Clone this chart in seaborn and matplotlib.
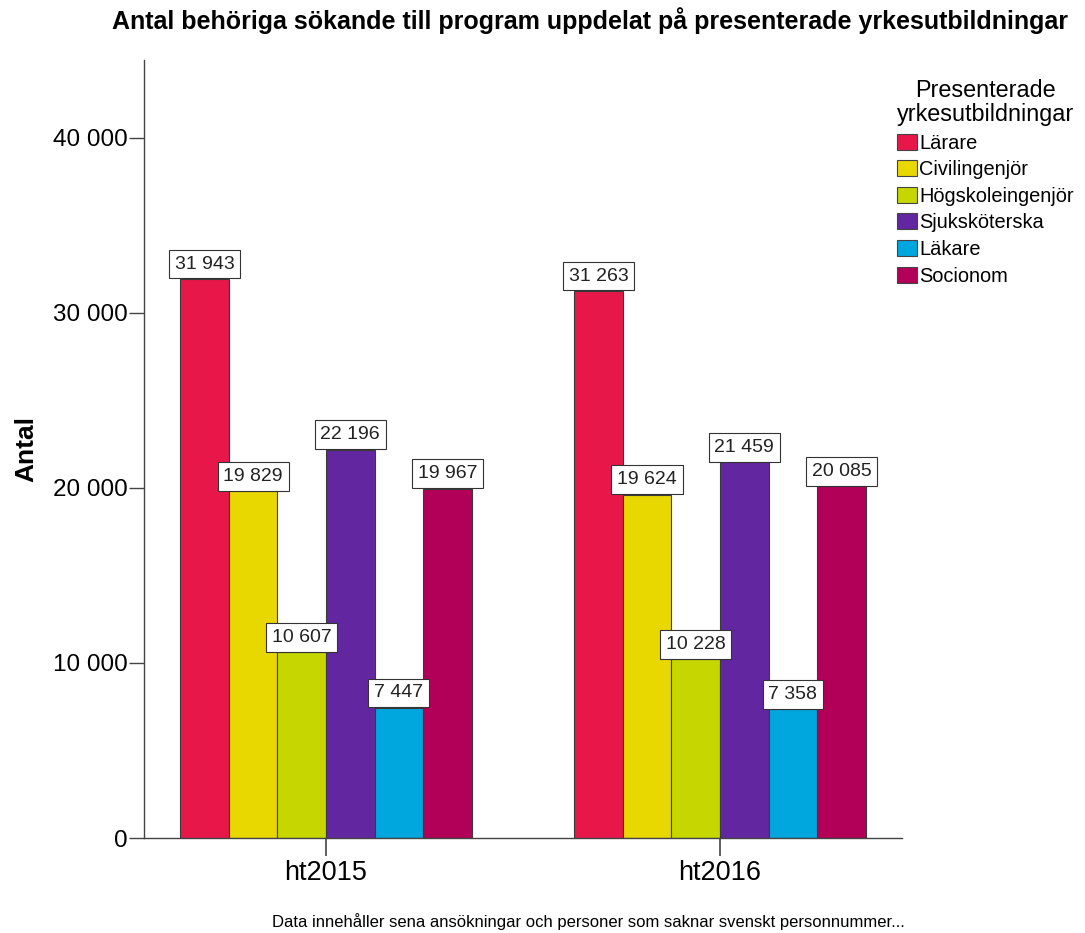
import pandas as pd
import seaborn as sns
import matplotlib.pyplot as plt

terminer = ["ht2015", "ht2016"]
utbildningar = ["Lärare", "Civilingenjör", "Högskoleingenjör", "Sjuksköterska", "Läkare", "Socionom"]
ht2015 = [31943, 19829, 10607, 22196, 7447, 19967]
ht2016 = [31263, 19624, 10228, 21459, 7358, 20085]
farger = ["#E8174A", "#E9D700", "#C5D600", "#6226A0", "#00A6DE", "#B20058"]

df = pd.DataFrame({
    "termin": [terminer[0]] * 6 + [terminer[1]] * 6,
    "utbildning": utbildningar * 2,
    "antal": ht2015 + ht2016,
})

sns.set_style("white")
plt.rcParams["font.family"] = ["Liberation Sans", "DejaVu Sans"]
plt.rcParams["text.color"] = "black"

fig = plt.figure(figsize=(10.85, 9.33), dpi=100)
ax = fig.add_axes([0.1327, 0.1018, 0.6986, 0.8339])

sns.barplot(data=df, x="termin", y="antal", hue="utbildning", hue_order=utbildningar,
            palette=farger, width=0.74, saturation=1, edgecolor="#3a3a3a",
            linewidth=0.8, errorbar=None, ax=ax)

# etiketter i vita rutor ovanpå staplarna
for c in ax.containers:
    ax.bar_label(c, fmt=lambda v: f"{v:,.0f}".replace(",", " "), padding=4.5,
                 fontsize=14, color="#222222",
                 bbox=dict(boxstyle="square,pad=0.3", fc="white", ec="#333333", lw=0.8))

ax.set_xlim(-0.462, 1.462)
ax.set_ylim(0, 44450)
ax.set_yticks([0, 10000, 20000, 30000, 40000])
ax.set_yticklabels(["0", "10 000", "20 000", "30 000", "40 000"])
ax.tick_params(axis="y", labelsize=17.5, length=10.5, width=1, direction="out",
               color="#444444", labelcolor="black", left=True, pad=1.5)
ax.tick_params(axis="x", labelsize=19.5, length=13, width=1.2, direction="out",
               color="#444444", labelcolor="black", bottom=True, pad=3)
ax.set_xlabel("")
ax.set_ylabel("Antal", fontsize=19, fontweight="bold", labelpad=10, color="black")
for s in ["top", "right"]:
    ax.spines[s].set_visible(False)
for s in ["left", "bottom"]:
    ax.spines[s].set_color("#444444")
    ax.spines[s].set_linewidth(1)

fig.text(0.544, 0.978, "Antal behöriga sökande till program uppdelat på presenterade yrkesutbildningar",
         ha="center", va="center", fontsize=18, fontweight="bold")
fig.text(0.542, 0.012, "Data innehåller sena ansökningar och personer som saknar svenskt personnummer...",
         ha="center", va="center", fontsize=12)

leg = ax.legend(title="Presenterade\nyrkesutbildningar", loc="upper left",
                bbox_to_anchor=(0.8175, 0.926), bbox_transform=fig.transFigure,
                frameon=False, fontsize=14.4, title_fontsize=16.8, handlelength=1.0,
                handleheight=0.85, handletextpad=0.1, labelspacing=0.38, borderpad=0)
leg.get_title().set_multialignment("center")
leg.get_title().set_linespacing(1.05)
for h in leg.legend_handles:
    h.set_edgecolor("#444444")
    h.set_linewidth(0.8)

fig.savefig("out.png", dpi=100)
